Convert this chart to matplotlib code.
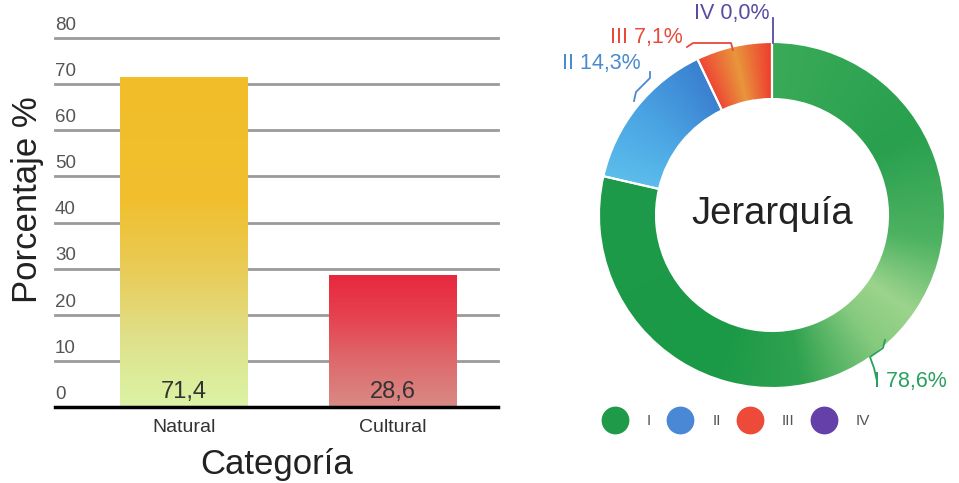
import numpy as np
import matplotlib
matplotlib.use("Agg")
import matplotlib.pyplot as plt
from matplotlib.colors import to_rgb
from matplotlib.lines import Line2D
from matplotlib.transforms import ScaledTranslation

plt.rcParams['font.family'] = ['Liberation Sans', 'DejaVu Sans']

# data
categories = ["Natural", "Cultural"]
cat_values = [71.4, 28.6]
cat_labels = ["71,4", "28,6"]
y_ticks = [0, 10, 20, 30, 40, 50, 60, 70, 80]

levels = ["I", "II", "III", "IV"]
level_values = [78.6, 14.3, 7.1, 0.0]
level_labels = ["I 78,6%", "II 14,3%", "III 7,1%", "IV 0,0%"]
level_colors = ["#1E9A48", "#4A88D6", "#EE4A3A", "#6440A8"]
label_colors = ["#2AA060", "#4A8AD0", "#E84A3A", "#5A4AA0"]

# gradient stops (value -> colour) for the bars
bar_grad = [
    ([0, 5, 15, 30, 45, 71.4], ["#DCF2A5", "#DCEE9C", "#DFE08A", "#E9CB56", "#F1BF2E", "#F2BE2A"]),
    ([0, 10, 20, 28.6], ["#D98A85", "#DE6A6C", "#E6404E", "#E8283F"]),
]
# gradient stops (fraction of the wedge -> colour) for the ring
ring_grad = [
    ([0, 0.21, 0.35, 0.44, 0.5, 0.6, 0.71, 1], ["#3AAA58", "#28A04E", "#4DB262", "#9CD48C",
                                               "#86CA7E", "#2FA250", "#1A9946", "#1E9B4A"]),
    ([0, 0.5, 1], ["#5CBDEC", "#4AA3E2", "#3A80D0"]),
    ([0, 0.5, 1], ["#EE4535", "#E8963C", "#EF3B2F"]),
    ([0, 1], ["#6440A8", "#6440A8"]),
]


def interp_colors(x, stops, cols):
    rgb = np.array([to_rgb(c) for c in cols])
    return np.stack([np.interp(x, stops, rgb[:, k]) for k in range(3)], axis=-1)


W, H = 959, 483
fig = plt.figure(figsize=(W / 100, H / 100), dpi=100)

# ---------------- bar chart ----------------
ax = fig.add_axes([55 / W, (H - 407) / H, 443 / W, 369 / H])
x = np.arange(len(categories))
bars = ax.bar(x, cat_values, width=0.61, color="none", edgecolor="none", zorder=3)
for bar, (stops, cols), val, lab in zip(bars, bar_grad, cat_values, cat_labels):
    yy = np.linspace(0, val, 300)
    img = interp_colors(yy, stops, cols)[:, None, :]
    x0 = bar.get_x()
    ax.imshow(img, extent=(x0, x0 + bar.get_width(), 0, val), origin="lower",
              aspect="auto", zorder=2, clip_path=bar, interpolation="bilinear")
    ax.text(bar.get_x() + bar.get_width() / 2, 3.3, lab, ha="center", va="center",
            fontsize=17, color="#333333", zorder=4)

ax.set_xlim(-0.617, 1.502)
ax.set_ylim(0, 80)
ax.set_yticks(y_ticks)
ax.set_yticklabels([str(t) for t in y_ticks])
ax.tick_params(axis="y", length=0, pad=0, labelsize=13.5, labelcolor="#555555")
for lab in ax.get_yticklabels():
    lab.set_ha("left")
    lab.set_va("bottom")
    lab.set_transform(lab.get_transform() + ScaledTranslation(0, 3 / 72, fig.dpi_scale_trans))
ax.set_xticks(x)
ax.set_xticklabels(categories)
ax.tick_params(axis="x", length=0, pad=9, labelsize=14, labelcolor="#333333")
ax.yaxis.grid(True, color="#9A9A9A", linewidth=2)
for gl in ax.get_ygridlines():
    gl.set_clip_on(False)
ax.set_axisbelow(True)
for s in ["top", "right", "left"]:
    ax.spines[s].set_visible(False)
ax.spines["bottom"].set_color("black")
ax.spines["bottom"].set_linewidth(2.5)
ax.spines["bottom"].set_zorder(5)
ax.set_xlabel("Categoría", fontsize=25, color="#222222", labelpad=8)
fig.text(28 / W, (H - 200) / H, "Porcentaje %", rotation=90, ha="center", va="center",
         fontsize=25, color="#222222")

# ---------------- donut ----------------
ax2 = fig.add_axes([0, 0, 1, 1])
ax2.patch.set_alpha(0)
cx, cy, r, wdt = 772, H - 215, 173, 57
wedges, _ = ax2.pie(level_values, colors=level_colors, startangle=90, counterclock=False,
                    radius=r, center=(cx, cy),
                    wedgeprops=dict(width=wdt, edgecolor="white", linewidth=1.5))
ax2.set_xlim(0, W)
ax2.set_ylim(0, H)
ax2.set_aspect("auto")
ax2.axis("off")

n = 500
gx, gy = np.meshgrid(np.linspace(cx - r, cx + r, n), np.linspace(cy - r, cy + r, n))
t = (90 - np.degrees(np.arctan2(gy - cy, gx - cx))) % 360
bounds = np.concatenate([[0], np.cumsum(level_values) / sum(level_values) * 360])
for i, wd in enumerate(wedges):
    span = max(bounds[i + 1] - bounds[i], 1e-6)
    frac = np.clip((t - bounds[i]) / span, 0, 1)
    stops, cols = ring_grad[i]
    img = interp_colors(frac, stops, cols)
    ax2.imshow(img, extent=(cx - r, cx + r, cy - r, cy + r), origin="lower",
               aspect="auto", zorder=2, clip_path=wd, interpolation="bilinear")
    wd.set_facecolor("none")
    wd.set_zorder(3)
ax2.set_xlim(0, W)
ax2.set_ylim(0, H)

ax2.text(cx, cy + 1, "Jerarquía", ha="center", va="center", fontsize=27.5, color="#222222")


def P(px, py):
    return px, H - py


# leader lines and labels
def leader(pts, color):
    xs, ys = zip(*[P(*p) for p in pts])
    ax2.plot(xs, ys, color=color, lw=1.3, zorder=4, clip_on=False)


leader([(773, 18), (773, 43)], label_colors[3])
ax2.text(*P(770, 13), level_labels[3], ha="right", va="center", fontsize=15.5, color=label_colors[3])

leader([(687, 47), (693, 43), (731, 43), (733, 50)], label_colors[2])
ax2.text(*P(683, 38), level_labels[2], ha="right", va="center", fontsize=15.5, color=label_colors[2])

leader([(650, 72), (650, 78), (636, 92), (634, 101)], label_colors[1])
ax2.text(*P(641, 64), level_labels[1], ha="right", va="center", fontsize=15.5, color=label_colors[1])

leader([(885, 340), (883, 348), (870, 357), (874, 368), (877, 381)], label_colors[0])
ax2.text(*P(874, 382), level_labels[0], ha="left", va="center", fontsize=15.5, color=label_colors[0])

handles = [Line2D([], [], marker="o", ls="", markersize=19, color=c) for c in level_colors]
leg = ax2.legend(handles, levels, loc="center", bbox_to_anchor=(735 / W, (H - 421) / H),
                 bbox_transform=fig.transFigure, ncol=4, frameon=False, fontsize=11,
                 handlelength=2.0, handletextpad=1.1, columnspacing=0.9)
for txt in leg.get_texts():
    txt.set_color("#555555")

fig.savefig("out.png", dpi=100)
